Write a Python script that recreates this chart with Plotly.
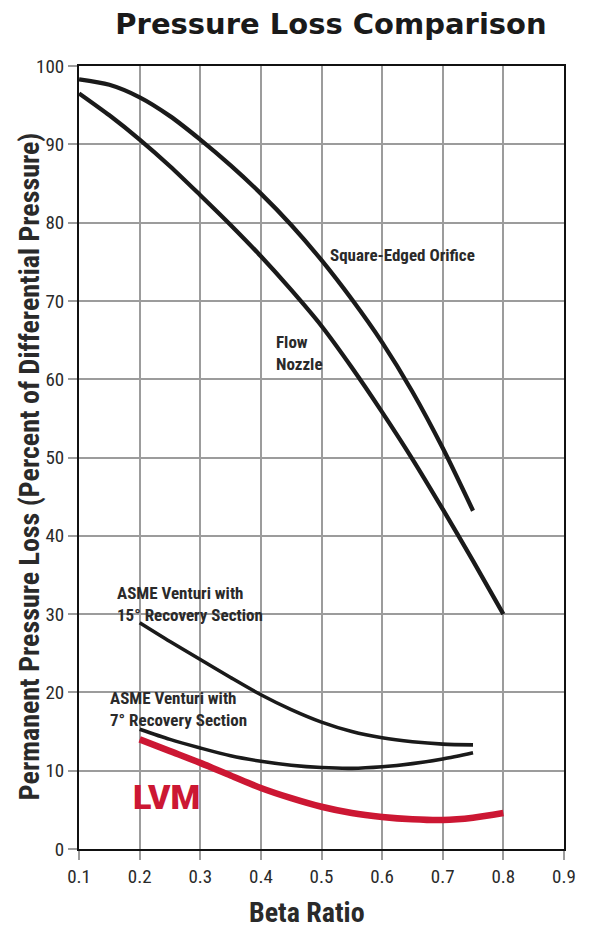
import plotly.graph_objects as go

# ---- data ----
orifice_x = [0.10, 0.15, 0.20, 0.25, 0.30, 0.35, 0.40, 0.45, 0.50, 0.55, 0.60, 0.65, 0.70, 0.75]
orifice_y = [98.3, 97.6, 96.0, 93.6, 90.6, 87.3, 83.7, 79.7, 75.2, 70.2, 64.7, 58.4, 51.2, 43.2]

nozzle_x = [0.10, 0.15, 0.20, 0.25, 0.30, 0.35, 0.40, 0.45, 0.50, 0.55, 0.60, 0.65, 0.70, 0.75, 0.80]
nozzle_y = [96.5, 93.7, 90.6, 87.2, 83.5, 79.7, 75.7, 71.4, 66.8, 61.5, 55.8, 49.8, 43.4, 36.8, 30.0]

v15_x = [0.20, 0.25, 0.30, 0.35, 0.40, 0.45, 0.50, 0.55, 0.60, 0.65, 0.70, 0.75]
v15_y = [28.9, 26.5, 24.2, 21.9, 19.7, 17.8, 16.2, 15.0, 14.2, 13.7, 13.4, 13.3]

v7_x = [0.20, 0.25, 0.30, 0.35, 0.40, 0.45, 0.50, 0.55, 0.60, 0.65, 0.70, 0.75]
v7_y = [15.3, 14.0, 12.9, 11.9, 11.2, 10.7, 10.4, 10.3, 10.5, 10.9, 11.5, 12.3]

lvm_x = [0.20, 0.25, 0.30, 0.35, 0.40, 0.45, 0.50, 0.55, 0.60, 0.65, 0.70, 0.75, 0.80]
lvm_y = [14.0, 12.5, 11.0, 9.4, 7.8, 6.5, 5.4, 4.6, 4.1, 3.8, 3.7, 4.0, 4.6]

x_ticks = [0.1, 0.2, 0.3, 0.4, 0.5, 0.6, 0.7, 0.8, 0.9]
x_tick_labels = ["0.1", "0.2", "0.3", "0.4", "0.5", "0.6", "0.7", "0.8", "0.9"]
y_ticks = [0, 10, 20, 30, 40, 50, 60, 70, 80, 90, 100]

# curve labels: (x, y, text, anchor)
curve_labels = [
    (0.633, 75.9, "Square-Edged Orifice", "center"),
    (0.421, 63.4, "Flow<br>Nozzle", "left"),
    (0.159, 31.3, "ASME Venturi with<br>15° Recovery Section", "left"),
    (0.148, 17.9, "ASME Venturi with<br>7° Recovery Section", "left"),
]

NARROW = "Liberation Sans Narrow, Roboto Condensed, Arial Narrow, sans-serif"
HEAVY = "Roboto, Arial Black, sans-serif"
BLACK = "#1a1a1a"
RED = "#cc1733"
TXT = "#2a2a2a"

# page offset of the figure inside the browser page (default body margin)
OFF = 8
W, H = 579, 920
PL, PR, PT, PB = 79, 576, 66, 849  # plot area in page pixels (right edge leaves room for "0.9")

fig = go.Figure()

def add_line(x, y, color, width):
    fig.add_trace(go.Scatter(x=x, y=y, mode="lines",
                             line=dict(color=color, width=width, shape="spline", smoothing=0.8),
                             hoverinfo="skip", showlegend=False))

add_line(orifice_x, orifice_y, BLACK, 4.3)
add_line(nozzle_x, nozzle_y, BLACK, 4.3)
add_line(v15_x, v15_y, BLACK, 3.6)
add_line(v7_x, v7_y, BLACK, 3.6)
add_line(lvm_x, lvm_y, RED, 6.5)

label_font = dict(family=NARROW, size=17, color=TXT, weight="bold")
for (lx, ly, txt, anc) in curve_labels:
    fig.add_annotation(x=lx, y=ly, xref="x", yref="y", text=txt, showarrow=False,
                       xanchor=anc, yanchor="middle", align="left", font=label_font)

fig.add_annotation(x=0.186, y=6.6, xref="x", yref="y", text="LVM", showarrow=False,
                   xanchor="left", yanchor="middle",
                   font=dict(family=HEAVY, size=34, color=RED, weight=900))

# axis titles as annotations (paper coords relative to the plot area)
fig.add_annotation(x=(313 - PL) / (PR - PL), y=(PB - 912) / (PB - PT), xref="paper", yref="paper",
                   text="Beta Ratio", showarrow=False, xanchor="center", yanchor="middle",
                   font=dict(family=NARROW, size=28, color=TXT, weight="bold"))
fig.add_annotation(x=(28 - PL) / (PR - PL), y=(PB - 466) / (PB - PT), xref="paper", yref="paper",
                   text="Permanent Pressure Loss (Percent of Differential Pressure)",
                   showarrow=False, textangle=-90, xanchor="center", yanchor="middle",
                   font=dict(family=NARROW, size=28, color=TXT, weight="bold"))

fig.update_layout(
    width=W, height=H,
    margin=dict(l=PL - OFF, r=W - (PR - OFF), t=PT - OFF, b=H - (PB - OFF)),
    paper_bgcolor="white", plot_bgcolor="white",
    title=dict(text="Pressure Loss Comparison", x=(331 - OFF) / W, xanchor="center",
               y=1 - (24 - OFF) / H, yanchor="middle",
               font=dict(family="DejaVu Sans", size=29, color="#1a1a1a", weight="bold")),
    xaxis=dict(range=[0.0999, 0.9001], tickvals=x_ticks, ticktext=x_tick_labels,
               showgrid=True, gridcolor="#9c9c9c", gridwidth=1.5,
               ticks="outside", ticklen=9, tickcolor="#9c9c9c", tickwidth=1.5,
               showline=True, linecolor="#111", linewidth=2, mirror=True,
               zeroline=False,
               tickfont=dict(family=NARROW, size=19, color=TXT)),
    yaxis=dict(range=[0, 100], tickvals=y_ticks,
               showgrid=True, gridcolor="#9c9c9c", gridwidth=1.5,
               ticks="outside", ticklen=9, tickcolor="#9c9c9c", tickwidth=1.5,
               showline=True, linecolor="#111", linewidth=2, mirror=True,
               zeroline=False,
               tickfont=dict(family=NARROW, size=19, color=TXT)),
)

fig.write_html("out.html", config={"displayModeBar": False})
